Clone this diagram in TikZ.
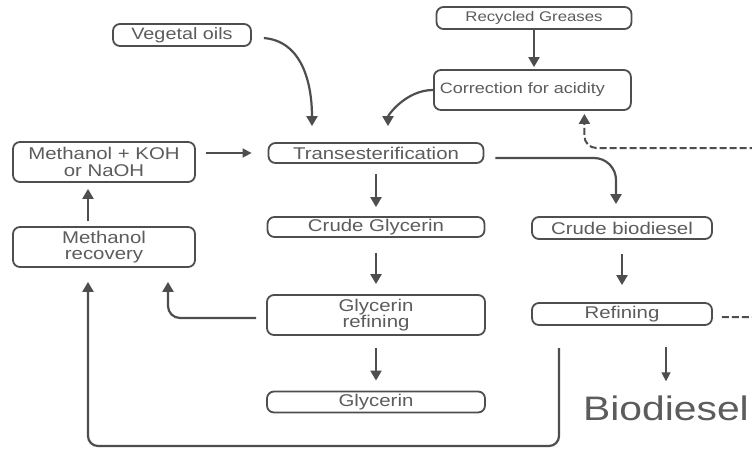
\documentclass[tikz,border=0pt]{standalone}
\usepackage{fontspec}
\setmainfont{Liberation Sans}[FakeStretch=1.2]
\usetikzlibrary{arrows.meta}

\definecolor{ink}{RGB}{78,78,78}
\definecolor{txt}{RGB}{92,92,92}

\begin{document}
\begin{tikzpicture}[
    x=1pt, y=-1pt,
    stage/.style={draw=ink, line width=1.8pt, rounded corners=7pt, inner sep=0pt, align=center, text=txt, font=\fontsize{17}{16.5}\selectfont},
    flow/.style={draw=ink, line width=2.2pt, -{Triangle[length=10pt,width=11pt]}},
    thinflow/.style={draw=ink, line width=1.6pt, -{Triangle[length=9pt,width=9pt]}}
]
    \useasboundingbox[fill=white] (0,0) rectangle (752,456);

    % feedstocks
    \node[stage, minimum width=138pt, minimum height=22pt, font=\fontsize{16.5}{15}\selectfont] (veg) at (182,35) {Vegetal oils};
    \node[stage, minimum width=195pt, minimum height=22pt, font=\fontsize{14}{15}\selectfont] (grease) at (534,18) {Recycled Greases};
    \node[stage, anchor=west, text width=185pt, inner xsep=6pt, minimum height=40pt, align=left, font=\fontsize{15}{15}\selectfont] (acid) at (433,90) {Correction for acidity};

    % main line
    \node[stage, minimum width=215pt, minimum height=20pt] (trans) at (376,153) {Transesterification};
    \node[stage, minimum width=217pt, minimum height=20pt] (cglyc) at (376,227) {Crude Glycerin};
    \node[stage, minimum width=218pt, minimum height=40pt] (grefine) at (376,315) {Glycerin\\refining};
    \node[stage, minimum width=218pt, minimum height=21pt] (glyc) at (376,402) {Glycerin};

    \node[stage, minimum width=180pt, minimum height=22pt] (cbio) at (622,228) {Crude biodiesel};
    \node[stage, minimum width=180pt, minimum height=22pt] (refine) at (622,314) {Refining};
    \node[text=txt, font=\fontsize{34}{34}\selectfont, inner sep=0pt] (bio) at (666,408) {Biodiesel};

    % methanol loop
    \node[stage, minimum width=182pt, minimum height=40pt] (mkoh) at (104,162) {Methanol + KOH\\or NaOH};
    \node[stage, minimum width=182pt, minimum height=40pt] (mrec) at (104,247) {Methanol\\recovery};

    \coordinate (ret) at (559,348);
    \coordinate (loopbot) at (300,446);
    \coordinate (offedge) at (780,148);

    \draw[flow, shorten >=2pt] (grease.south) -- (grease.south |- acid.north);
    \draw[flow, shorten >=16pt] ([xshift=12pt,yshift=-3pt]veg.east) to[out=-5, in=90] ([xshift=-64pt]trans.north);
    \draw[flow, shorten >=16pt] (acid.west) to[out=180, in=90] ([xshift=12pt]trans.north);
    \draw[thinflow, shorten <=10pt, shorten >=16pt] (mkoh.east |- trans.west) -- (trans.west);

    \draw[flow, shorten <=10pt, shorten >=9pt] (trans) -- (cglyc);
    \draw[flow, shorten <=15pt, shorten >=10pt] (cglyc) -- (grefine);
    \draw[flow, shorten <=12pt, shorten >=10pt] (grefine) -- (glyc);
    \draw[flow, rounded corners=22pt, shorten >=12pt] ([xshift=11pt,yshift=-5pt]trans.east) -| ([xshift=-6pt]cbio.north);
    \draw[flow, shorten <=14pt, shorten >=17pt] (cbio) -- (refine);
    \draw[thinflow, shorten <=21pt, shorten >=14pt] (refine.south -| bio.north) -- (bio.north);

    \draw[flow, shorten <=5pt, shorten >=6pt] ([xshift=-16pt]mrec.north) -- ([xshift=-16pt]mkoh.south);
    \draw[flow, rounded corners=12pt, shorten >=14pt] ([xshift=-10pt,yshift=-3pt]grefine.west) -| ([xshift=64pt]mrec.south);
    \draw[flow, rounded corners=10pt, shorten >=14pt] (ret) |- (loopbot) -| ([xshift=-16pt]mrec.south);

    % recycle of refining losses
    \draw[flow, line width=2pt, dash pattern=on 7pt off 3pt, rounded corners=12pt, shorten >=3pt] ([xshift=9pt,yshift=-3pt]refine.east) -| (offedge) -| ([xshift=52pt]acid.south);
\end{tikzpicture}
\end{document}
